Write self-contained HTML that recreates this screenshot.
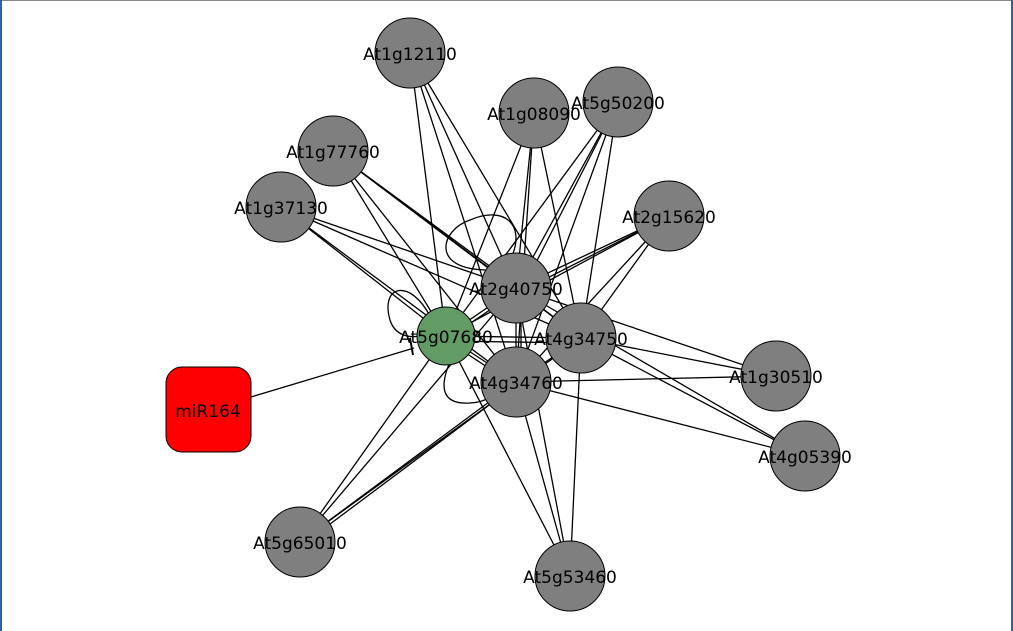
<!DOCTYPE html>
<html><head><style>
html,body{margin:0;padding:0;background:#fff}
svg{display:block}
text{font-family:"DejaVu Sans","Liberation Sans",sans-serif;font-size:17px;fill:#000;text-anchor:middle}
</style></head><body>
<svg width="1013" height="631" viewBox="0 0 1013 631">
<rect x="0" y="0" width="1013" height="631" fill="#fff"/>
<line x1="0" y1="0.5" x2="1013" y2="0.5" stroke="#888" stroke-width="1"/>
<line x1="1" y1="0" x2="1" y2="631" stroke="#3060a0" stroke-width="2"/>
<line x1="1012" y1="0" x2="1012" y2="631" stroke="#3060a0" stroke-width="2"/>
<g stroke="#000" stroke-width="1.3" fill="none">
<line x1="410" y1="53" x2="516" y2="288"/><line x1="410" y1="53" x2="446" y2="336"/><line x1="410" y1="53" x2="581" y2="338"/><line x1="410" y1="53" x2="516" y2="382"/>
<line x1="534" y1="113" x2="516" y2="288"/><line x1="534" y1="113" x2="446" y2="336"/><line x1="534" y1="113" x2="581" y2="338"/><line x1="534" y1="113" x2="516" y2="382"/>
<line x1="618" y1="102" x2="516" y2="288"/><line x1="618" y1="102" x2="446" y2="336"/><line x1="618" y1="102" x2="581" y2="338"/><line x1="618" y1="102" x2="516" y2="382"/><line x1="618" y1="102" x2="522" y2="290"/>
<line x1="333" y1="151" x2="516" y2="288"/><line x1="333" y1="151" x2="446" y2="336"/><line x1="333" y1="151" x2="581" y2="338"/><line x1="333" y1="151" x2="516" y2="382"/><line x1="333" y1="151" x2="514" y2="284"/>
<line x1="281" y1="207" x2="516" y2="288"/><line x1="281" y1="207" x2="446" y2="336"/><line x1="281" y1="207" x2="581" y2="338"/><line x1="281" y1="207" x2="516" y2="382"/>
<line x1="669" y1="216" x2="516" y2="288"/><line x1="669" y1="216" x2="446" y2="336"/><line x1="669" y1="216" x2="581" y2="338"/><line x1="669" y1="216" x2="516" y2="382"/><line x1="669" y1="216" x2="518" y2="293"/>
<line x1="776" y1="376" x2="516" y2="288"/><line x1="776" y1="376" x2="581" y2="338"/><line x1="776" y1="376" x2="516" y2="382"/>
<line x1="805" y1="456" x2="516" y2="288"/><line x1="805" y1="456" x2="581" y2="338"/><line x1="805" y1="456" x2="516" y2="382"/>
<line x1="300" y1="542" x2="516" y2="288"/><line x1="300" y1="542" x2="446" y2="336"/><line x1="300" y1="542" x2="581" y2="338"/><line x1="300" y1="542" x2="516" y2="382"/><line x1="302" y1="545" x2="516" y2="385"/>
<line x1="570" y1="576" x2="516" y2="288"/><line x1="570" y1="576" x2="446" y2="336"/><line x1="570" y1="576" x2="581" y2="338"/><line x1="570" y1="576" x2="516" y2="382"/>
<line x1="446" y1="336" x2="516" y2="288"/><line x1="446" y1="340" x2="516" y2="292"/>
<line x1="446" y1="336" x2="581" y2="338"/><line x1="446" y1="341" x2="581" y2="343"/>
<line x1="446" y1="336" x2="516" y2="382"/><line x1="446" y1="340" x2="516" y2="386"/>
<line x1="516" y1="288" x2="581" y2="338"/><line x1="516" y1="288" x2="516" y2="382"/><line x1="521" y1="288" x2="521" y2="382"/>
<line x1="581" y1="338" x2="516" y2="382"/>
<path d="M430 316 C410 278 380 285 390 320 C395 336 410 338 420 336"/>
<path d="M488 270 C430 270 440 230 470 220 C505 205 525 225 512 256"/>
<path d="M450 362 C440 385 440 405 470 403 C490 402 495 392 497 388"/>
<line x1="251" y1="397" x2="414" y2="348"/>
<line x1="410" y1="338" x2="413" y2="355" stroke-width="2"/>
</g>
<g stroke="#000" stroke-width="1" fill="#7f7f7f">
<circle cx="410" cy="53" r="35"/><circle cx="534" cy="113" r="35"/><circle cx="618" cy="102" r="35"/>
<circle cx="333" cy="151" r="35"/><circle cx="281" cy="207" r="35"/><circle cx="669" cy="216" r="35"/>
<circle cx="516" cy="288" r="35"/><circle cx="581" cy="338" r="35"/><circle cx="516" cy="382" r="35"/>
<circle cx="776" cy="376" r="35"/><circle cx="805" cy="456" r="35"/><circle cx="300" cy="542" r="35"/>
<circle cx="570" cy="576" r="35"/>
<circle cx="446" cy="336" r="29" fill="#629b63"/>
<rect x="166" y="367" width="85" height="85" rx="16" fill="#ff0000"/>
</g>
<g>
<text x="410" y="60">At1g12110</text><text x="534" y="120">At1g08090</text><text x="618" y="109">At5g50200</text>
<text x="333" y="158">At1g77760</text><text x="281" y="214">At1g37130</text><text x="669" y="223">At2g15620</text>
<text x="516" y="295">At2g40750</text><text x="446" y="343">At5g07680</text><text x="581" y="345">At4g34750</text>
<text x="516" y="389">At4g34760</text><text x="776" y="383">At1g30510</text><text x="805" y="463">At4g05390</text>
<text x="300" y="549">At5g65010</text><text x="570" y="583">At5g53460</text>
<text x="208" y="417">miR164</text>
</g>
</svg>
</body></html>
